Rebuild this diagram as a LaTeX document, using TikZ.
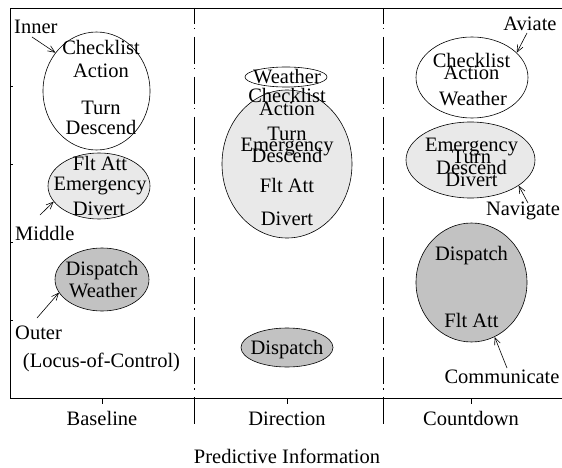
\documentclass[tikz,border=0pt]{standalone}
\usepackage{fontspec}
\setmainfont{Liberation Serif}
\usetikzlibrary{shapes.geometric,arrows.meta}
\definecolor{lightfill}{gray}{0.915}
\definecolor{darkfill}{gray}{0.76}
\begin{document}
\begin{tikzpicture}[x=1pt,y=-1pt,
  txt/.style={font=\fontsize{20.5}{22}\selectfont, inner sep=0pt, anchor=base},
  ell/.style={draw, ellipse, inner sep=0pt, line width=0.6pt},
  ptr/.style={-{Straight Barb[length=7pt,width=6pt]}, line width=0.6pt},
  frame/.style={line width=0.7pt},
  sep/.style={line width=0.7pt, dash pattern=on 27pt off 4pt on 1.5pt off 7.5pt, dash phase=11pt}]
\useasboundingbox (0,0) rectangle (562,468);
% frame
\draw[frame] (562,8) -- (10,8) -- (10,398) -- (562,398);
\foreach \yy in {86,164,242,320} \draw[frame] (10,\yy) -- (13,\yy);
\foreach \xx in {102,287,471} \draw[frame] (\xx,398) -- (\xx,404);
\draw[sep] (194,8) -- (194,427);
\draw[sep] (383,8) -- (383,427);
% Baseline column
\node[ell, fill=white, minimum width=107pt, minimum height=118pt] (bw) at (96.5,91) {};
\node[ell, fill=lightfill, minimum width=102pt, minimum height=66pt] (bl) at (99,186) {};
\node[ell, fill=darkfill, minimum width=94pt, minimum height=63pt] (bd) at (102,279.5) {};
\node[txt] (b1) at (101,55) {Checklist};
\node[txt] (b2) at (101,78) {Action};
\node[txt] (b3) at (101,115) {Turn};
\node[txt] (b4) at (101,135) {Descend};
\node[txt] (b5) at (100,170) {Flt Att};
\node[txt] (b6) at (100,190) {Emergency};
\node[txt] (b7) at (99,215) {Divert};
\node[txt] (b8) at (102,275) {Dispatch};
\node[txt] (b9) at (103,297) {Weather};
\node[txt, anchor=base west] (inner) at (14,34) {Inner};
\node[txt, anchor=base west] (middle) at (15,240) {Middle};
\node[txt, anchor=base west] (outer) at (15,339) {Outer};
\node[txt] (locus) at (101.5,367) {(Locus-of-Control)};
\coordinate (innertail) at (32,37);
\coordinate (middletail) at (40,215);
\coordinate (outertail) at (37,318);
\draw[ptr] (innertail) -- (bw.137.4);
\draw[ptr] (middletail) -- (bl.199.9);
\draw[ptr] (outertail) -- (bd.197.8);
% Direction column
\node[ell, fill=lightfill, minimum width=130pt, minimum height=148pt] (dl) at (287,164) {};
\node[ell, fill=white, minimum width=82pt, minimum height=20pt] (dw) at (286,77) {};
\node[ell, fill=darkfill, minimum width=92pt, minimum height=39pt] (dd) at (287,347.5) {};
\node[txt] (d0) at (287,83.5) {Weather};
\node[txt] (d1) at (287,102.5) {Checklist};
\node[txt] (d2) at (287,115.5) {Action};
\node[txt] (d3) at (287,141) {Turn};
\node[txt] (d4) at (287,151) {Emergency};
\node[txt] (d5) at (287,162) {Descend};
\node[txt] (d6) at (287,192) {Flt Att};
\node[txt] (d7) at (287,225) {Divert};
\node[txt] (d8) at (287,354) {Dispatch};
% Countdown column
\node[ell, fill=white, minimum width=112pt, minimum height=81pt] (cw) at (472,77.5) {};
\node[ell, fill=lightfill, minimum width=129pt, minimum height=76pt] (cl) at (470.5,160) {};
\node[ell, fill=darkfill, minimum width=111pt, minimum height=119pt] (cd) at (471.5,282.5) {};
\node[txt] (c1) at (471.5,67.5) {Checklist};
\node[txt] (c2) at (471.5,80) {Action};
\node[txt] (c3) at (473,106) {Weather};
\node[txt] (c4) at (471.5,152) {Emergency};
\node[txt] (c5) at (471.5,163) {Turn};
\node[txt] (c6) at (471.5,174) {Descend};
\node[txt] (c7) at (471.5,186) {Divert};
\node[txt] (c8) at (471.5,260) {Dispatch};
\node[txt] (c9) at (471.5,327) {Flt Att};
\node[txt] (aviate) at (530,31) {Aviate};
\node[txt] (navigate) at (523,215.5) {Navigate};
\node[txt] (communicate) at (502,383.5) {Communicate};
\coordinate (aviatetail) at (527,33);
\coordinate (navigatetail) at (528,203);
\coordinate (communicatetail) at (507,368);
\draw[ptr] (aviatetail) -- (cw.29.5);
\draw[ptr] (navigatetail) -- (cl.-28.5);
\draw[ptr] (communicatetail) -- (cd.-67.8);
% axis labels
\node[txt] (ax1) at (102,425) {Baseline};
\node[txt] (ax2) at (287,425) {Direction};
\node[txt] (ax3) at (471,425) {Countdown};
\node[txt] (axtitle) at (287,463) {Predictive Information};
\end{tikzpicture}
\end{document}
